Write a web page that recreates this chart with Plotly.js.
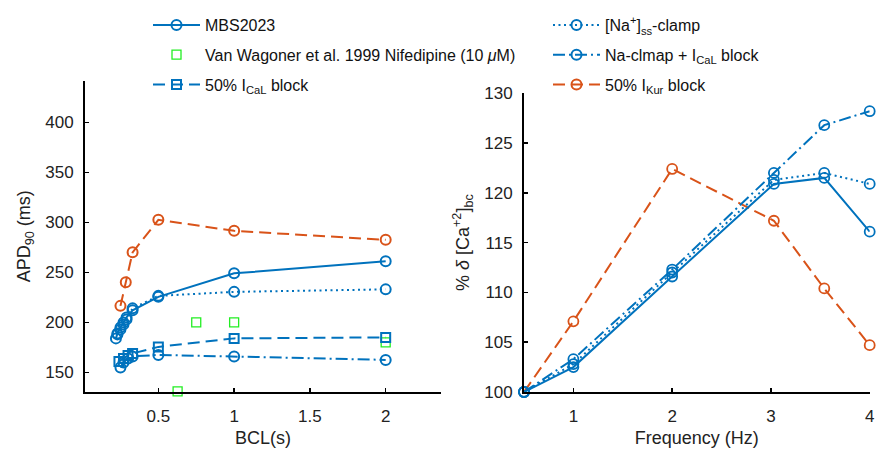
<!DOCTYPE html>
<html>
<head>
<meta charset="utf-8">
<script src="https://cdn.plot.ly/plotly-3.0.1.min.js"></script>
<style>html,body{margin:0;padding:0;background:#fff;}#chart{width:886px;height:449px;}</style>
</head>
<body>
<div id="chart"></div>
<script>
// ---------- Left panel: APD90 vs BCL ----------
const bclMBS = [0.22, 0.23, 0.25, 0.27, 0.29, 0.33, 0.5, 1, 2];
const apdMBS = [184, 189, 195, 200, 205, 212, 225.5, 249, 261];

const bclNaClamp = [0.23, 0.25, 0.27, 0.29, 0.33, 0.5, 1, 2];
const apdNaClamp = [188, 193, 198, 203, 214, 226.5, 230.5, 233];

const bclVW = [0.627, 0.75, 1, 2];
const apdVW = [131, 200, 200, 180];

const bclCaL = [0.24, 0.27, 0.3, 0.33, 0.5, 1, 2];
const apdCaL = [161, 164, 167, 169, 175.5, 184, 185];

const bclNaCaL = [0.25, 0.27, 0.3, 0.33, 0.5, 1, 2];
const apdNaCaL = [155, 160, 164, 166, 167.5, 166, 162.5];

const bclKur = [0.25, 0.285, 0.33, 0.5, 1, 2];
const apdKur = [216.5, 240, 270, 302.5, 291.5, 282.5];

// ---------- Right panel: % delta [Ca]bc vs frequency ----------
const freq = [0.5, 1, 2, 3.03, 3.54, 4];
const caMBS = [100, 102.5, 111.6, 120.9, 121.5, 116.1];
const caNaClamp = [100, 102.8, 112.0, 121.3, 122.0, 120.9];
const caNaCaL = [100, 103.3, 112.3, 122.0, 126.8, 128.2];
const caKur = [100, 107.1, 122.4, 117.2, 110.4, 104.7];

// ---------- Tick labels ----------
const leftXTicks = [0.5, 1, 1.5, 2];
const leftXTickText = ['0.5', '1', '1.5', '2'];
const leftYTicks = [150, 200, 250, 300, 350, 400];
const rightXTicks = [1, 2, 3, 4];
const rightYTicks = [100, 105, 110, 115, 120, 125, 130];

const BLUE = '#0072BD';
const ORANGE = '#D95319';
const GREEN = '#22EE22';
const FONT = 'Liberation Sans, Arial, sans-serif';
const DASH = '12px,6px';
const DOT = '2px,3.5px';
const DASHDOT = '12px,4px,2px,4px';

function circ(size, w) { return {symbol: 'circle-open', size: size, color: BLUE, line: {width: w, color: BLUE}}; }

const traces = [
  // left panel, legend column 1
  {x: bclMBS, y: apdMBS, name: 'MBS2023', type: 'scatter', mode: 'lines+markers',
   line: {color: BLUE, width: 2}, marker: circ(10, 2), xaxis: 'x', yaxis: 'y',
   legend: 'legend', legendgroup: 'a'},
  {x: bclVW, y: apdVW, name: 'Van Wagoner et al. 1999 Nifedipine (10 <i>μ</i>M)', type: 'scatter', mode: 'markers',
   marker: {symbol: 'square-open', size: 9, color: GREEN, line: {width: 1.3, color: GREEN}},
   cliponaxis: false, xaxis: 'x', yaxis: 'y', legend: 'legend', legendgroup: 'b'},
  {x: bclCaL, y: apdCaL, name: '50% I<sub>CaL</sub> block', type: 'scatter', mode: 'lines+markers',
   line: {color: BLUE, width: 2, dash: DASH},
   marker: {symbol: 'square-open', size: 9, color: BLUE, line: {width: 2, color: BLUE}},
   xaxis: 'x', yaxis: 'y', legend: 'legend', legendgroup: 'c'},
  // left panel, legend column 2
  {x: bclNaClamp, y: apdNaClamp, name: '[Na<sup>+</sup>]<sub>ss</sub>-clamp', type: 'scatter', mode: 'lines+markers',
   line: {color: BLUE, width: 2, dash: DOT}, marker: circ(10, 2), xaxis: 'x', yaxis: 'y',
   legend: 'legend2', legendgroup: 'd'},
  {x: bclNaCaL, y: apdNaCaL, name: 'Na-clmap + I<sub>CaL</sub> block', type: 'scatter', mode: 'lines+markers',
   line: {color: BLUE, width: 2, dash: DASHDOT}, marker: circ(10, 2), xaxis: 'x', yaxis: 'y',
   legend: 'legend2', legendgroup: 'e'},
  {x: bclKur, y: apdKur, name: '50% I<sub>Kur</sub> block', type: 'scatter', mode: 'lines+markers',
   line: {color: ORANGE, width: 2, dash: DASH},
   marker: {symbol: 'circle-open', size: 10, color: ORANGE, line: {width: 2, color: ORANGE}},
   xaxis: 'x', yaxis: 'y', legend: 'legend2', legendgroup: 'f'},
  // right panel
  {x: freq, y: caKur, name: '50% I<sub>Kur</sub> block', type: 'scatter', mode: 'lines+markers', showlegend: false,
   line: {color: ORANGE, width: 2, dash: DASH},
   marker: {symbol: 'circle-open', size: 10, color: ORANGE, line: {width: 1.8, color: ORANGE}},
   cliponaxis: false, xaxis: 'x2', yaxis: 'y2'},
  {x: freq, y: caNaClamp, name: '[Na<sup>+</sup>]<sub>ss</sub>-clamp', type: 'scatter', mode: 'lines+markers', showlegend: false,
   line: {color: BLUE, width: 2, dash: DOT}, marker: circ(10, 1.8), cliponaxis: false, xaxis: 'x2', yaxis: 'y2'},
  {x: freq, y: caNaCaL, name: 'Na-clmap + I<sub>CaL</sub> block', type: 'scatter', mode: 'lines+markers', showlegend: false,
   line: {color: BLUE, width: 2, dash: DASHDOT}, marker: circ(10, 1.8), cliponaxis: false, xaxis: 'x2', yaxis: 'y2'},
  {x: freq, y: caMBS, name: 'MBS2023', type: 'scatter', mode: 'lines+markers', showlegend: false,
   line: {color: BLUE, width: 2}, marker: circ(10, 1.8), cliponaxis: false, xaxis: 'x2', yaxis: 'y2'}
];

const W = 886, H = 449;
const axCommon = {
  showline: true, linecolor: '#000', linewidth: 2, mirror: false,
  ticks: 'inside', ticklen: 4, tickwidth: 1.5, tickcolor: '#000',
  showgrid: false, zeroline: false, automargin: false,
  tickfont: {family: FONT, size: 17, color: '#222'},
  fixedrange: true
};

const layout = {
  width: W, height: H,
  margin: {l: 0, r: 0, t: 0, b: 0},
  paper_bgcolor: '#fff', plot_bgcolor: 'rgba(0,0,0,0)',
  font: {family: FONT, size: 16, color: '#111'},
  xaxis: Object.assign({}, axCommon, {
    domain: [85 / W, 441 / W], range: [0.016, 2.365],
    tickvals: leftXTicks, ticktext: leftXTickText, ticklabelstandoff: 8,
    anchor: 'y',
    title: {text: 'BCL(s)', font: {family: FONT, size: 18, color: '#222'}, standoff: 6}
  }),
  yaxis: Object.assign({}, axCommon, {
    domain: [1 - 392 / H, 1 - 80.7 / H], range: [130.4, 441.6],
    tickvals: leftYTicks, ticklabelstandoff: 6, anchor: 'x',
    title: {text: 'APD<sub>90</sub> (ms)', font: {family: FONT, size: 18, color: '#222'}, standoff: 10}
  }),
  xaxis2: Object.assign({}, axCommon, {
    domain: [524 / W, 869.7 / W], range: [0.5, 4],
    tickvals: rightXTicks, ticklabelstandoff: 8, anchor: 'y2',
    title: {text: 'Frequency (Hz)', font: {family: FONT, size: 18, color: '#222'}, standoff: 6}
  }),
  yaxis2: Object.assign({}, axCommon, {
    domain: [1 - 392 / H, 1 - 93.3 / H], range: [100, 130],
    tickvals: rightYTicks, ticklabelstandoff: 6, anchor: 'x2',
    title: {text: '% <i>δ</i> [Ca<sup>+2</sup>]<sub>bc</sub>', font: {family: FONT, size: 18, color: '#222'}, standoff: 10}
  }),
  legend: {
    x: 148 / W, y: 1 - 8 / H, xanchor: 'left', yanchor: 'top',
    bgcolor: 'rgba(0,0,0,0)', borderwidth: 0, traceorder: 'grouped', tracegroupgap: 6,
    itemwidth: 47, font: {family: FONT, size: 16, color: '#111'}
  },
  legend2: {
    x: 548 / W, y: 1 - 8 / H, xanchor: 'left', yanchor: 'top',
    bgcolor: 'rgba(0,0,0,0)', borderwidth: 0, traceorder: 'grouped', tracegroupgap: 6,
    itemwidth: 47, font: {family: FONT, size: 16, color: '#111'}
  },
  showlegend: true
};

Plotly.newPlot('chart', traces, layout, {staticPlot: true, displayModeBar: false});
</script>
</body>
</html>
